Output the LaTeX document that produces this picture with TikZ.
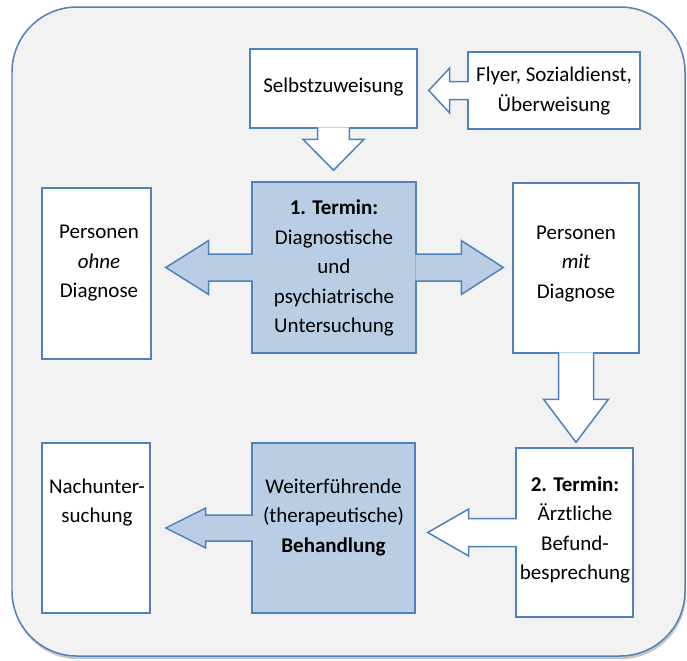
\documentclass[tikz,border=0pt]{standalone}
\usepackage{fontspec}
\setmainfont{Carlito}
\usetikzlibrary{calc}
\usetikzlibrary{shadows}

\definecolor{rahmenblau}{RGB}{79,129,189}
\definecolor{kastenblau}{RGB}{185,205,229}
\definecolor{grundgrau}{RGB}{242,242,242}

% Blockpfeil: #1 Farbe, #2 von, #3 bis, #4 Abstand, #5 halbe Schaftbreite, #6 halbe Kopfbreite, #7 Kopflaenge
\newcommand{\blockpfeil}[7]{
    \coordinate (bp-s) at ($(#2)!-0.03cm!(#3)$);
    \coordinate (bp-t) at ($(#3)!#4!(#2)$);
    \coordinate (bp-h) at ($(bp-t)!#7!(bp-s)$);
    \draw[pfeilrand,fill=#1]($(bp-s)!#5!90:(bp-t)$)--($(bp-h)!#5!-90:(bp-s)$)--($(bp-h)!#6!-90:(bp-s)$)--(bp-t)
        --($(bp-h)!#6!90:(bp-s)$)--($(bp-h)!#5!90:(bp-s)$)--($(bp-s)!#5!-90:(bp-t)$);
}

\begin{document}
\begin{tikzpicture}[x=0.02cm,y=-0.02cm,
    kasten/.style={draw=rahmenblau,line width=0.03cm,inner sep=0pt},
    pfeilrand/.style={draw=rahmenblau,line width=0.03cm,line join=miter},
    beschriftung/.style={align=center,inner sep=0pt,font=\fontsize{11.95}{16.8}\selectfont}]
            \useasboundingbox (0,0) rectangle (687,660);
            %%%%%%%%%%%%%%%%%%%%%%%%%%%%%%%%%%%%%%%%%%Rahmen
            \draw[draw=rahmenblau,line width=0.03cm,fill=grundgrau,rounded corners=1.3cm,
                drop shadow={shadow xshift=0.6pt,shadow yshift=-1.8pt,opacity=0.45}]
                (12,7) rectangle (685,656);
            %%%%%%%%%%%%%%%%%%%%%%%%%%%%%%%%%%%%%%%%%%Kaesten
            \foreach \n/\x/\y/\w/\h/\farbe in {sz/333.5/88.5/167/79/white,fl/554/90.5/172/77/white,t1/334/267.5/164/171/kastenblau,po/96.5/273.5/109/171/white,pm/576/268/126/170/white,nu/96/528/108/170/white,wb/333.5/528/163/170/kastenblau,t2/574.5/532.5/117/169/white}
            {
                \node[kasten,fill=\farbe,minimum width=\w*0.02cm,minimum height=\h*0.02cm](\n) at (\x,\y){};
            }
            %%%%%%%%%%%%%%%%%%%%%%%%%%%%%%%%%%%%%%%%%%Texte
            \foreach \n/\x/\y/\txt in {sz/333.5/87/{Selbstzuweisung},fl/554/91/{Flyer, Sozialdienst,\\\"Uberweisung},t1/334/268/{\textbf{1. Termin:}\\Diagnostische\\und\\psychiatrische\\Untersuchung},po/99/263.5/{Personen\\\textit{ohne}\\Diagnose},pm/576/264/{Personen\\\textit{mit}\\Diagnose},nu/97/502.5/{Nachunter-\\suchung},wb/333.5/517/{Weiterf\"uhrende\\(therapeutische)\\\textbf{Behandlung}},t2/575/530/{\textbf{2. Termin:}\\\"Arztliche\\Befund-\\besprechung}}
            {
                \node[beschriftung](\n-t) at (\x,\y){\txt};
            }
            %%%%%%%%%%%%%%%%%%%%%%%%%%%%%%%%%%%%%%%%%%Pfeile
            \blockpfeil{white}{fl.west}{fl.west -| sz.east}{0.22cm}{0.18cm}{0.45cm}{0.42cm}
            \blockpfeil{white}{sz.south}{sz.south |- t1.north}{0.22cm}{0.32cm}{0.61cm}{0.62cm}
            \blockpfeil{kastenblau}{t1.west}{t1.west -| po.east}{0.28cm}{0.27cm}{0.54cm}{0.86cm}
            \blockpfeil{kastenblau}{t1.east}{t1.east -| pm.west}{0.18cm}{0.27cm}{0.54cm}{0.84cm}
            \blockpfeil{white}{pm.south}{pm.south |- t2.north}{0.1cm}{0.35cm}{0.65cm}{0.86cm}
            \blockpfeil{kastenblau}{wb.west}{wb.west -| nu.east}{0.3cm}{0.26cm}{0.4cm}{0.8cm}
            \blockpfeil{white}{t2.west}{t2.west -| wb.east}{0.24cm}{0.28cm}{0.47cm}{0.82cm}
        \end{tikzpicture}
\end{document}
